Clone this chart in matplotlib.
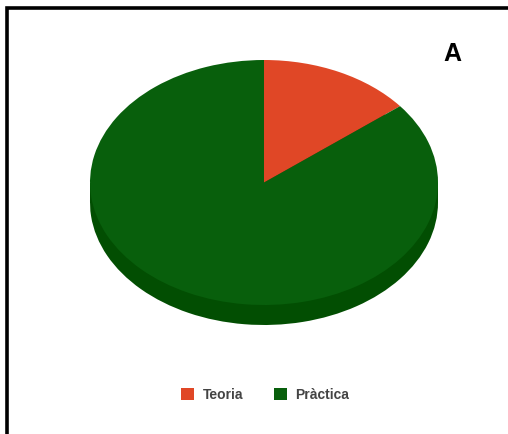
import matplotlib
matplotlib.use("Agg")
import matplotlib.pyplot as plt
from matplotlib.patches import Rectangle

categories = ["Teoria", "Pràctica"]
values = [1, 6]
colors = ["#E04726", "#085F0C"]
side_colors = ["#9a2e18", "#024E02"]
panel_label = "A"

W, H = 508, 434
fig = plt.figure(figsize=(W / 100, H / 100), dpi=100)

# overlay axes in pixel coordinates for border and label
ax0 = fig.add_axes([0, 0, 1, 1])
ax0.set_xlim(0, W)
ax0.set_ylim(H, 0)
ax0.axis("off")
ax0.plot([6.5, 6.5, W + 5], [H + 5, 7.5, 7.5], color="black", lw=2.6,
         solid_joinstyle="miter", clip_on=False)
ax0.text(452, 54, panel_label, fontsize=18, fontweight="bold",
         family="Liberation Sans", ha="center", va="center")

# pie geometry (pixels)
cx, cy, rx, ry, depth = 264, 182.5, 174, 122.5, 20
d = depth / ry
axp = fig.add_axes([(cx - rx) / W, (H - (cy + ry + depth)) / H,
                    2 * rx / W, (2 * ry + depth) / H])
# side (depth)
axp.pie(values, colors=side_colors, startangle=90, counterclock=False,
        center=(0, -d), radius=1, wedgeprops=dict(linewidth=0))
axp.add_patch(Rectangle((-1, -d), 2, d, color=side_colors[1], lw=0))
# top
wedges, _ = axp.pie(values, colors=colors, startangle=90, counterclock=False,
                    center=(0, 0), radius=1, wedgeprops=dict(linewidth=0))
axp.set_aspect("auto")
axp.set_xlim(-1, 1)
axp.set_ylim(-1 - d, 1)
axp.axis("off")

leg = fig.legend(wedges, categories, loc="center", ncol=2,
                 bbox_to_anchor=(265 / W, 1 - 395 / H), frameon=False,
                 handlelength=0.95, handleheight=0.95, handletextpad=0.6,
                 columnspacing=2.2,
                 prop=dict(family="Liberation Sans", weight="bold", size=10))
for t in leg.get_texts():
    t.set_color("#444444")

fig.savefig("out.png", dpi=100)
